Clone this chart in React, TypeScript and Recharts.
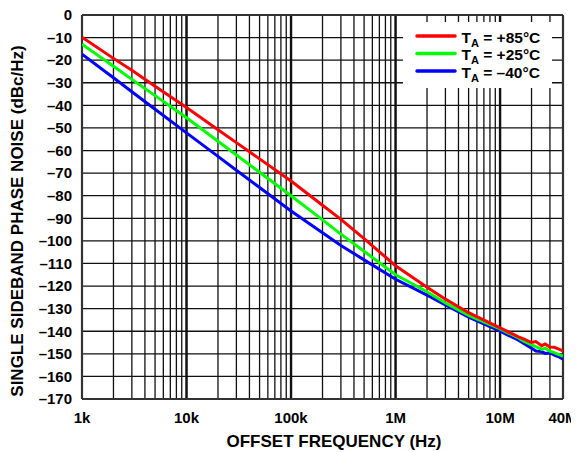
import React from 'react';
import { LineChart, Line, XAxis, YAxis, CartesianGrid, ReferenceLine, Legend, Label } from 'recharts';

const frequencies = [1e3, 2e3, 3e3, 5e3, 1e4, 2e4, 3e4, 5e4, 1e5, 2e5, 3e5, 5e5, 1e6, 2e6, 3e6, 5e6, 1e7, 1.2e7, 1.5e7, 1.7e7, 2e7, 2.2e7, 2.5e7, 2.7e7, 3e7, 3.3e7, 3.6e7, 4e7];
const noisePlus85 = [-9.8, -19.2, -24.5, -31.5, -41, -50.8, -56.5, -63.7, -73.5, -84.2, -90.5, -99, -111, -120.5, -125.8, -131.8, -138.5, -140.3, -142.5, -143.5, -145, -144.6, -146.4, -145.6, -147, -147.1, -147.8, -148.7];
const noisePlus25 = [-12.9, -22.7, -28.5, -35.7, -45.5, -55.9, -62, -69.6, -80, -90.7, -97, -104.6, -115, -122.5, -127.5, -133, -139, -140.8, -143, -144.5, -146, -146.8, -148, -147.5, -148.8, -149.5, -150.2, -151];
const noiseMinus40 = [-17.3, -27.8, -34, -41.7, -52.2, -62.6, -68.7, -76.4, -86.8, -96.4, -102, -108.4, -117, -124, -128.3, -133.8, -140, -141.8, -144, -145.5, -147.5, -148.8, -149, -149.8, -149.5, -150.6, -151.2, -152.4];

const seriesKeys = ['t85', 't25', 'tm40'];
const seriesTemps = ['+85°C', '+25°C', '–40°C'];
const seriesColors = ['#ff0000', '#00ff00', '#0000ff'];

const xLabelTicks = [1e3, 1e4, 1e5, 1e6, 1e7, 4e7];
const xLabels = ['1k', '10k', '100k', '1M', '10M', '40M'];
const decadeLines = [1e4, 1e5, 1e6, 1e7];
const yTicks = [0, -10, -20, -30, -40, -50, -60, -70, -80, -90, -100, -110, -120, -130, -140, -150, -160, -170];

const xGridTicks: number[] = [];
for (let d = 1e3; d <= 1e7; d *= 10) {
  for (let m = 1; m <= 9; m++) {
    if (m * d <= 4e7) xGridTicks.push(m * d);
  }
}

const data = frequencies.map((f, i) => ({
  f,
  t85: noisePlus85[i],
  t25: noisePlus25[i],
  tm40: noiseMinus40[i],
}));

const FONT = '"Liberation Sans", Arial, Helvetica, sans-serif';

const XTick = (props: any) => {
  const { x, y, payload } = props;
  const i = xLabelTicks.indexOf(payload.value);
  if (i < 0) return <g />;
  return (
    <text x={x} y={y + 23.5} textAnchor="middle" fontSize={15} fontWeight="bold" fontFamily={FONT} fill="#000">
      {xLabels[i]}
    </text>
  );
};

const YTick = (props: any) => {
  const { x, y, payload } = props;
  const v = payload.value;
  const label = v === 0 ? '0' : '–' + Math.abs(v);
  return (
    <text x={x - 10} y={y + 5.3} textAnchor="end" fontSize={15} fontWeight="bold" fontFamily={FONT} fill="#000">
      {label}
    </text>
  );
};

const LegendBox = () => (
  <svg width={149} height={66} style={{ display: 'block' }}>
    <rect x={0} y={0} width={149} height={66} fill="#fff" />
    {seriesKeys.map((k, i) => {
      const cy = 14 + i * 17.5;
      return (
        <g key={k}>
          <line x1={14} x2={52} y1={cy} y2={cy} stroke={seriesColors[i]} strokeWidth={3.5} strokeLinecap="round" />
          <text x={58.5} y={cy + 6.7} fontSize={15.5} fontWeight="bold" fontFamily={FONT} fill="#000">
            T<tspan fontSize={11} dy={4}>A</tspan>
            <tspan dy={-4}>{' = ' + seriesTemps[i]}</tspan>
          </text>
        </g>
      );
    })}
  </svg>
);

const YTitle = (props: any) => {
  const vb = props.viewBox || { x: 0, y: 15, width: 82, height: 384 };
  const cx = vb.x + 17;
  const cy = vb.y + vb.height / 2 + 14;
  return (
    <text
      x={cx}
      y={cy}
      transform={`rotate(-90 ${cx} ${cy})`}
      textAnchor="middle"
      dominantBaseline="central"
      fontSize={17}
      fontWeight="bold"
      fontFamily={FONT}
      fill="#000"
    >
      SINGLE SIDEBAND PHASE NOISE (dBc/Hz)
    </text>
  );
};

const XTitle = (props: any) => {
  const vb = props.viewBox || { x: 82, y: 399, width: 481, height: 53 };
  const cx = vb.x + vb.width / 2 + 11.5;
  const by = vb.y + 47.7;
  return (
    <text x={cx} y={by} textAnchor="middle" fontSize={17} fontWeight="bold" fontFamily={FONT} fill="#000">
      OFFSET FREQUENCY (Hz)
    </text>
  );
};

export default function App() {
  return (
    <div style={{ width: 579, height: 452, position: 'relative', marginTop: -8, marginLeft: -8 }}>
      <LineChart width={579} height={452} data={data} margin={{ top: 15, right: 16, left: 0, bottom: 0 }}>
        <CartesianGrid stroke="#111" strokeWidth={1.3} />
        <XAxis
          dataKey="f"
          type="number"
          scale="log"
          domain={[1e3, 4e7]}
          allowDataOverflow
          ticks={xGridTicks}
          interval={0}
          tick={<XTick />}
          tickSize={0}
          tickMargin={0}
          tickLine={false}
          axisLine={false}
          height={53}
        >
          <Label content={<XTitle />} />
        </XAxis>
        <YAxis
          type="number"
          domain={[-170, 0]}
          allowDataOverflow
          ticks={yTicks}
          interval={0}
          tick={<YTick />}
          tickSize={0}
          tickMargin={0}
          tickLine={false}
          axisLine={false}
          width={82}
        >
          <Label content={<YTitle />} />
        </YAxis>
        {decadeLines.map((d) => (
          <ReferenceLine key={d} x={d} stroke="#111" strokeWidth={2.4} />
        ))}
        <ReferenceLine x={1e3} stroke="#333" strokeWidth={2.2} />
        <ReferenceLine x={4e7} stroke="#333" strokeWidth={2.2} />
        <ReferenceLine y={0} stroke="#333" strokeWidth={2.2} />
        <ReferenceLine y={-170} stroke="#333" strokeWidth={2.2} />
        <Line dataKey="tm40" stroke={seriesColors[2]} strokeWidth={3} dot={false} isAnimationActive={false} />
        <Line dataKey="t25" stroke={seriesColors[1]} strokeWidth={3} dot={false} isAnimationActive={false} />
        <Line dataKey="t85" stroke={seriesColors[0]} strokeWidth={3} dot={false} isAnimationActive={false} />
        <Legend
          layout="vertical"
          align="center"
          verticalAlign="middle"
          content={<LegendBox />}
          wrapperStyle={{ left: 403, top: 22, width: 149, height: 66 }}
        />
      </LineChart>
    </div>
  );
}
